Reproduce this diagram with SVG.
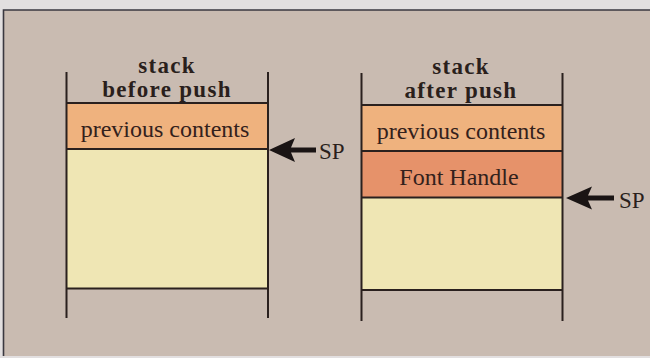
<svg xmlns="http://www.w3.org/2000/svg" width="650" height="358" viewBox="0 0 650 358">
  <defs>
    <style>
      .ln { stroke: #2a201e; stroke-width: 2; fill: none; }
      .title { font-family: "Liberation Serif", "Times New Roman", serif; font-weight: bold; font-size: 23px; letter-spacing: 1.3px; fill: #2a1f1c; text-anchor: middle; }
      .cell { font-family: "Liberation Serif", "Times New Roman", serif; font-size: 24px; fill: #33211c; text-anchor: middle; }
      .sp { font-family: "Liberation Serif", "Times New Roman", serif; font-size: 23px; fill: #2a1f1c; }
      .prev { fill: #efb27e; }
      .font { fill: #e6926a; }
      .free { fill: #efe6b4; }
      .arrow { fill: #1a1414; }
    </style>
  </defs>

  <!-- background -->
  <rect x="0" y="0" width="650" height="358" fill="#e2dfe0"/>
  <rect x="3.5" y="10" width="646.5" height="346" fill="#c9bbb1"/>
  <path d="M3.5 356 V10 H650" stroke="#3a3840" stroke-width="1.6" fill="none"/>

  <!-- left stack -->
  <g id="stack-before">
    <rect class="prev" x="66.5" y="103" width="201.5" height="46"/>
    <rect class="free" x="66.5" y="149" width="201.5" height="139"/>
    <path class="ln" d="M66.5 72 V318 M268 72 V318 M66.5 103 H268 M66.5 149 H268 M66.5 288.5 H268"/>
    <text class="title" x="167" y="73">stack</text>
    <text class="title" x="167" y="97">before push</text>
    <text class="cell" x="165" y="137">previous contents</text>
  </g>

  <!-- right stack -->
  <g id="stack-after">
    <rect class="prev" x="361.5" y="105" width="201" height="46"/>
    <rect class="font" x="361.5" y="151" width="201" height="46"/>
    <rect class="free" x="361.5" y="197" width="201" height="93"/>
    <path class="ln" d="M361.5 73 V321 M562.5 73 V321 M361.5 105 H562.5 M361.5 151 H562.5 M361.5 197.5 H562.5 M361.5 290 H562.5"/>
    <text class="title" x="461" y="74">stack</text>
    <text class="title" x="461" y="98">after push</text>
    <text class="cell" x="461" y="139">previous contents</text>
    <text class="cell" x="459" y="184.5">Font Handle</text>
  </g>

  <!-- SP pointers -->
  <g id="connectors">
    <g id="sp-before">
      <path class="arrow" d="M269 150 L295 138 L291 147.5 L316 147.5 L316 152.5 L291 152.5 L295 162 Z"/>
      <text class="sp" x="319" y="159">SP</text>
    </g>
    <g id="sp-after">
      <path class="arrow" d="M566 198 L592 186.5 L588 195.5 L614 195.5 L614 200.5 L588 200.5 L592 209.5 Z"/>
      <text class="sp" x="619" y="207.5">SP</text>
    </g>
  </g>
</svg>
